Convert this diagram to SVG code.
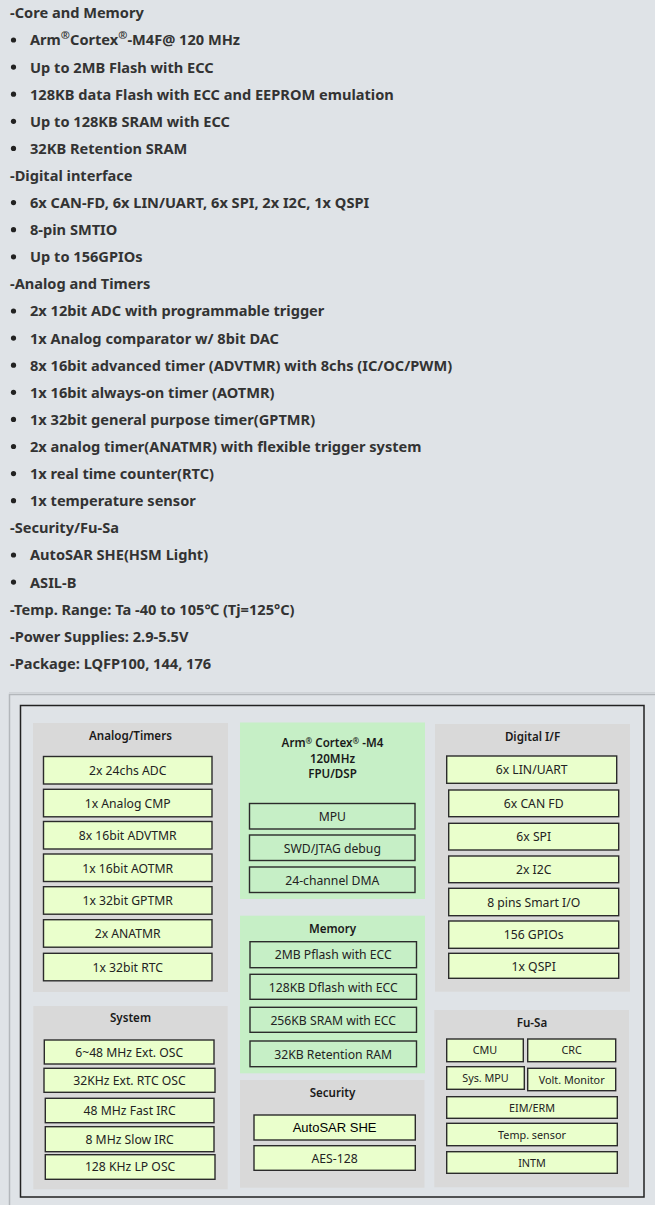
<svg xmlns="http://www.w3.org/2000/svg" width="655" height="1205" viewBox="0 0 655 1205">
<style>
.h{font-family:"Noto Sans","DejaVu Sans",sans-serif;font-weight:bold;font-size:14.6px;fill:#333}
.bul{fill:#222}
.panel{fill:#d9d9d9}
.core{fill:#c6efc6}
.box{fill:#eaffcc;stroke:#2b2b2b;stroke-width:1.4}
.cbox{fill:#c6efc6;stroke:#2b2b2b;stroke-width:1.4}
.t{font-family:"Noto Sans","DejaVu Sans",sans-serif;font-size:12.2px;fill:#222;text-anchor:middle}
.s{font-size:10.8px}
.ti{font-family:"Noto Sans","DejaVu Sans",sans-serif;font-size:11.6px;font-weight:600;fill:#1a1a1a;text-anchor:middle}
.ar{font-family:"Liberation Sans",Arial,sans-serif;font-size:13px;fill:#000;text-anchor:middle}
</style>
<rect x="0" y="0" width="655" height="1205" fill="#dfe3e7"/>
<g id="features">
<text class="h" x="10" y="18.3">-Core and Memory</text>
<circle class="bul" cx="13.5" cy="40" r="2.6"/><text class="h" x="30" y="45.4">Arm<tspan font-size="11" dy="-6">®</tspan><tspan dy="6">Cortex</tspan><tspan font-size="11" dy="-6">®</tspan><tspan dy="6">-M4F@ 120 MHz</tspan></text>
<circle class="bul" cx="13.5" cy="67.1" r="2.6"/><text class="h" x="30" y="72.5">Up to 2MB Flash with ECC</text>
<circle class="bul" cx="13.5" cy="94.2" r="2.6"/><text class="h" x="30" y="99.6">128KB data Flash with ECC and EEPROM emulation</text>
<circle class="bul" cx="13.5" cy="121.3" r="2.6"/><text class="h" x="30" y="126.7">Up to 128KB SRAM with ECC</text>
<circle class="bul" cx="13.5" cy="148.4" r="2.6"/><text class="h" x="30" y="153.8">32KB Retention SRAM</text>
<text class="h" x="10" y="181">-Digital interface</text>
<circle class="bul" cx="13.5" cy="202.6" r="2.6"/><text class="h" x="30" y="208">6x CAN-FD, 6x LIN/UART, 6x SPI, 2x I2C, 1x QSPI</text>
<circle class="bul" cx="13.5" cy="229.7" r="2.6"/><text class="h" x="30" y="235.1">8-pin SMTIO</text>
<circle class="bul" cx="13.5" cy="256.8" r="2.6"/><text class="h" x="30" y="262.2">Up to 156GPIOs</text>
<text class="h" x="10" y="289.3">-Analog and Timers</text>
<circle class="bul" cx="13.5" cy="311" r="2.6"/><text class="h" x="30" y="316.4">2x 12bit ADC with programmable trigger</text>
<circle class="bul" cx="13.5" cy="338.1" r="2.6"/><text class="h" x="30" y="343.5">1x Analog comparator w/ 8bit DAC</text>
<circle class="bul" cx="13.5" cy="365.2" r="2.6"/><text class="h" x="30" y="370.6">8x 16bit advanced timer (ADVTMR) with 8chs (IC/OC/PWM)</text>
<circle class="bul" cx="13.5" cy="392.3" r="2.6"/><text class="h" x="30" y="397.7">1x 16bit always-on timer (AOTMR)</text>
<circle class="bul" cx="13.5" cy="419.4" r="2.6"/><text class="h" x="30" y="424.8">1x 32bit general purpose timer(GPTMR)</text>
<circle class="bul" cx="13.5" cy="446.5" r="2.6"/><text class="h" x="30" y="451.9">2x analog timer(ANATMR) with flexible trigger system</text>
<circle class="bul" cx="13.5" cy="473.6" r="2.6"/><text class="h" x="30" y="479">1x real time counter(RTC)</text>
<circle class="bul" cx="13.5" cy="500.7" r="2.6"/><text class="h" x="30" y="506.1">1x temperature sensor</text>
<text class="h" x="10" y="533.3">-Security/Fu-Sa</text>
<circle class="bul" cx="13.5" cy="555" r="2.6"/><text class="h" x="30" y="560.4">AutoSAR SHE(HSM Light)</text>
<circle class="bul" cx="13.5" cy="582.1" r="2.6"/><text class="h" x="30" y="587.5">ASIL-B</text>
<text class="h" x="10" y="614.6">-Temp. Range: Ta -40 to 105℃ (Tj=125°C)</text>
<text class="h" x="10" y="641.7">-Power Supplies: 2.9-5.5V</text>
<text class="h" x="10" y="668.8">-Package: LQFP100, 144, 176</text>
</g>
<g id="frame">
<rect x="9.5" y="694.5" width="700" height="600" fill="none" stroke="#b3b7bb" stroke-width="1.5"/>
<line x1="9" y1="692.8" x2="655" y2="692.8" stroke="#cfd3d7" stroke-width="1.5"/>
<rect x="20.5" y="705.5" width="623.5" height="491.5" fill="none" stroke="#222" stroke-width="1.5"/>
</g>
<g id="analog-timers">
<rect class="panel" x="33" y="723" width="195" height="269"/>
<text class="ti" x="130.5" y="740">Analog/Timers</text>
<rect class="box" x="43.5" y="756.5" width="168.5" height="27.5"/><text class="t" x="127.7" y="775">2x 24chs ADC</text>
<rect class="box" x="43.5" y="789.3" width="168.5" height="27.5"/><text class="t" x="127.7" y="807.8">1x Analog CMP</text>
<rect class="box" x="43.5" y="821.5" width="168.5" height="27.5"/><text class="t" x="127.7" y="840">8x 16bit ADVTMR</text>
<rect class="box" x="43.5" y="854" width="168.5" height="27.5"/><text class="t" x="127.7" y="872.5">1x 16bit AOTMR</text>
<rect class="box" x="43.5" y="886.7" width="168.5" height="27.5"/><text class="t" x="127.7" y="905.2">1x 32bit GPTMR</text>
<rect class="box" x="43.5" y="919.7" width="168.5" height="27.5"/><text class="t" x="127.7" y="938.2">2x ANATMR</text>
<rect class="box" x="43.5" y="953.3" width="168.5" height="27.5"/><text class="t" x="127.7" y="971.8">1x 32bit RTC</text>
</g>
<g id="core">
<rect class="core" x="240" y="722.5" width="185" height="176.5"/>
<text class="ti" x="332.5" y="747.3">Arm<tspan font-size="8" dy="-3">®</tspan><tspan dy="3"> Cortex</tspan><tspan font-size="8" dy="-3">®</tspan><tspan dy="3"> -M4</tspan></text>
<text class="ti" x="332.5" y="762.7">120MHz</text>
<text class="ti" x="332.5" y="778">FPU/DSP</text>
<rect class="cbox" x="249.5" y="803.5" width="165.5" height="25.5"/><text class="t" x="332.3" y="821">MPU</text>
<rect class="cbox" x="249.5" y="835" width="165.5" height="25.5"/><text class="t" x="332.3" y="852.5">SWD/JTAG debug</text>
<rect class="cbox" x="249.5" y="867" width="165.5" height="25.5"/><text class="t" x="332.3" y="884.5">24-channel DMA</text>
</g>
<g id="memory">
<rect class="core" x="240" y="915.7" width="185" height="157.6"/>
<text class="ti" x="332.5" y="933.3">Memory</text>
<rect class="cbox" x="250" y="941.7" width="166.5" height="26"/><text class="t" x="333.2" y="959.4">2MB Pflash with ECC</text>
<rect class="cbox" x="250" y="974.3" width="166.5" height="25"/><text class="t" x="333.2" y="991.5">128KB Dflash with ECC</text>
<rect class="cbox" x="250" y="1007.3" width="166.5" height="25"/><text class="t" x="333.2" y="1024.5">256KB SRAM with ECC</text>
<rect class="cbox" x="250" y="1041" width="166.5" height="25.7"/><text class="t" x="333.2" y="1058.5">32KB Retention RAM</text>
</g>
<g id="security">
<rect class="panel" x="240" y="1080" width="184.5" height="107.7"/>
<text class="ti" x="332.5" y="1097.3">Security</text>
<rect class="box" x="254" y="1115" width="161.3" height="25"/><text class="ar" x="334.6" y="1132.3">AutoSAR SHE</text>
<rect class="box" x="254" y="1145.7" width="161.3" height="24.6"/><text class="t" x="334.6" y="1162.8">AES-128</text>
</g>
<g id="system">
<rect class="panel" x="33.3" y="1006" width="194.4" height="183.3"/>
<text class="ti" x="130.5" y="1022.3">System</text>
<rect class="box" x="44.3" y="1040" width="169.7" height="24"/><text class="t" x="129.2" y="1056.5">6~48 MHz Ext. OSC</text>
<rect class="box" x="44" y="1068.3" width="171" height="24"/><text class="t" x="129.5" y="1084.8">32KHz Ext. RTC OSC</text>
<rect class="box" x="45.3" y="1098.3" width="168.7" height="24.4"/><text class="t" x="129.6" y="1115">48 MHz Fast IRC</text>
<rect class="box" x="45.3" y="1126.7" width="168.7" height="25"/><text class="t" x="129.6" y="1143.5">8 MHz Slow IRC</text>
<rect class="box" x="45.3" y="1154.7" width="169.7" height="24.6"/><text class="t" x="130.1" y="1171.3">128 KHz LP OSC</text>
</g>
<g id="digital-if">
<rect class="panel" x="435" y="724" width="195" height="267.7"/>
<text class="ti" x="532.5" y="740.7">Digital I/F</text>
<rect class="box" x="446.7" y="756" width="170" height="27.3"/><text class="t" x="531.7" y="774.3">6x LIN/UART</text>
<rect class="box" x="448.7" y="790" width="170" height="26.7"/><text class="t" x="533.7" y="808">6x CAN FD</text>
<rect class="box" x="448.7" y="823.3" width="170" height="26.7"/><text class="t" x="533.7" y="841.3">6x SPI</text>
<rect class="box" x="448.7" y="856" width="170" height="26.7"/><text class="t" x="533.7" y="874">2x I2C</text>
<rect class="box" x="448.7" y="888.3" width="170" height="27.4"/><text class="t" x="533.7" y="906.6">8 pins Smart I/O</text>
<rect class="box" x="448.7" y="921" width="170" height="27.3"/><text class="t" x="533.7" y="939.3">156 GPIOs</text>
<rect class="box" x="448.7" y="953.3" width="170" height="25"/><text class="t" x="533.7" y="970.5">1x QSPI</text>
</g>
<g id="fu-sa">
<rect class="panel" x="434.3" y="1010" width="194.7" height="177.3"/>
<text class="ti" x="532" y="1027.3">Fu-Sa</text>
<rect class="box" x="446.7" y="1039" width="76.6" height="22.7"/><text class="t s" x="485" y="1054.3">CMU</text>
<rect class="box" x="527.7" y="1039" width="88" height="22.7"/><text class="t s" x="571.7" y="1054.3">CRC</text>
<rect class="box" x="446.7" y="1066.7" width="77.6" height="22.6"/><text class="t s" x="485.5" y="1081.8">Sys. MPU</text>
<rect class="box" x="527.7" y="1068.3" width="88" height="22.4"/><text class="t s" x="571.7" y="1083.5">Volt. Monitor</text>
<rect class="box" x="446.7" y="1096.7" width="170.6" height="21.6"/><text class="t s" x="532" y="1111.5">EIM/ERM</text>
<rect class="box" x="446.7" y="1123.3" width="170.6" height="22.4"/><text class="t s" x="532" y="1138.5">Temp. sensor</text>
<rect class="box" x="446.7" y="1151.7" width="170.6" height="21.6"/><text class="t s" x="532" y="1166.5">INTM</text>
</g>
<g id="connectors"/>
</svg>
